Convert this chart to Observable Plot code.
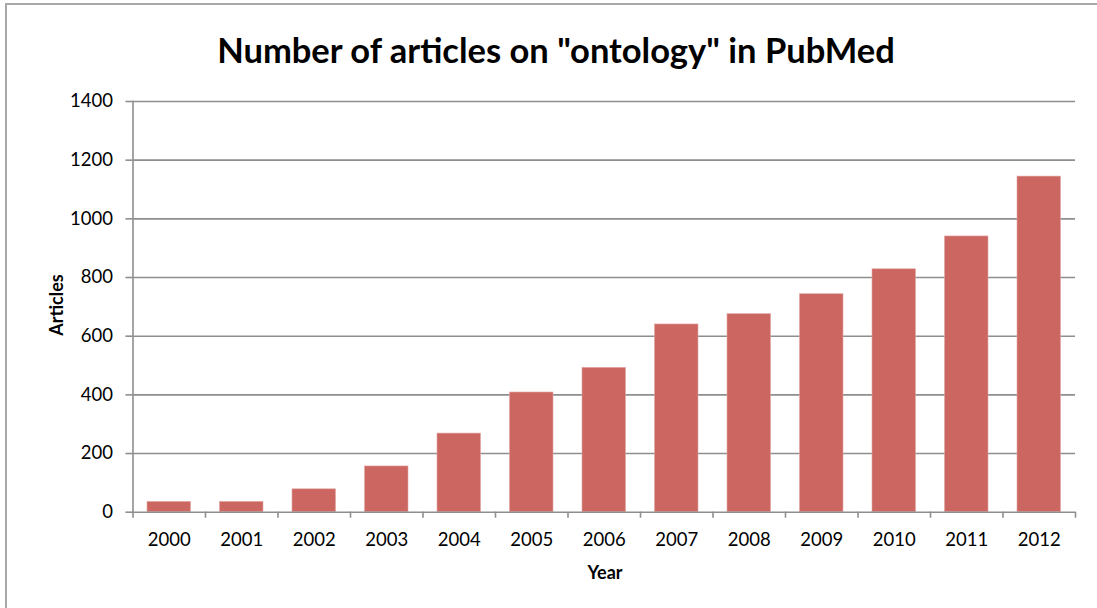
<!DOCTYPE html>
<html>
<head>
<meta charset="utf-8">
<script src="https://cdn.jsdelivr.net/npm/d3@7"></script>
<script src="https://cdn.jsdelivr.net/npm/@observablehq/plot@0.6"></script>
<style>
  html, body { margin: 0; padding: 0; background: #fff; overflow: hidden; }
  #chart { position: relative; width: 1097px; height: 608px; font-family: Lato, "Open Sans", sans-serif; }
  #frame { position: absolute; left: 5px; top: 3px; width: 1100px; height: 700px; border: 2px solid #a8a8a8; box-sizing: border-box; }
  #title { position: absolute; left: 0; width: 1112px; top: 29px; text-align: center; font-weight: bold; font-size: 34.5px; color: #000; }
  #ylabel { position: absolute; left: 56px; top: 305px; transform: translate(-50%, -50%) rotate(-90deg); font-weight: bold; font-size: 18px; white-space: nowrap; }
  #xlabel { position: absolute; left: 605px; top: 572px; transform: translate(-50%, -50%); font-weight: bold; font-size: 18px; }
  svg { position: absolute; left: 0; top: 0; }
</style>
</head>
<body>
<div id="chart">
  <div id="frame"></div>
  <div id="title">Number of articles on "ontology" in PubMed</div>
  <div id="ylabel">Articles</div>
  <div id="xlabel">Year</div>
</div>
<script>
// Yearly article counts for the search term "ontology"
const years = [2000, 2001, 2002, 2003, 2004, 2005, 2006, 2007, 2008, 2009, 2010, 2011, 2012];
const articles = [35, 35, 78, 156, 268, 408, 492, 640, 675, 743, 828, 940, 1144];
const yTicks = [0, 200, 400, 600, 800, 1000, 1200, 1400];

const data = years.map((year, i) => ({year, count: articles[i]}));
// Category boundaries for the small ticks under the baseline
const boundaries = [years[0] - 0.5, ...years.map(y => y + 0.5)];

const gridColor = "#8e8e8e";
const barColor = "#cc6661";

const plot = Plot.plot({
  width: 1097,
  height: 608,
  marginLeft: 132.5,
  marginRight: 22,
  marginTop: 101,
  marginBottom: 96.3,
  style: {fontFamily: "Lato, 'Open Sans', sans-serif", background: "transparent", overflow: "visible"},
  x: {domain: [years[0] - 0.5, years[years.length - 1] + 0.5]},
  y: {domain: [0, 1400]},
  marks: [
    Plot.gridY(yTicks.filter(d => d > 0), {stroke: gridColor, strokeOpacity: 1, strokeWidth: 1.6}),
    Plot.rectY(data, {x1: d => d.year - 0.3, x2: d => d.year + 0.3, y1: 0, y2: "count", fill: barColor, stroke: "#e2a7a3", strokeWidth: 0.6}),
    Plot.ruleY([0], {stroke: gridColor, strokeWidth: 1.6}),
    Plot.frame({anchor: "left", stroke: gridColor, strokeWidth: 1.6}),
    Plot.axisY(yTicks, {tickSize: 7, tickPadding: 13, fontSize: 18.5, stroke: gridColor, strokeWidth: 1.6, fill: "#000", label: null, tickFormat: d => String(d)}),
    Plot.axisX(boundaries, {tickSize: 6, stroke: gridColor, strokeWidth: 1.6, tickFormat: () => "", label: null}),
    Plot.axisX(years, {tickSize: 0, tickPadding: 21, fontSize: 18.5, fill: "#000", label: null, tickFormat: d => String(d)})
  ]
});

document.getElementById("chart").appendChild(plot);
</script>
</body>
</html>
